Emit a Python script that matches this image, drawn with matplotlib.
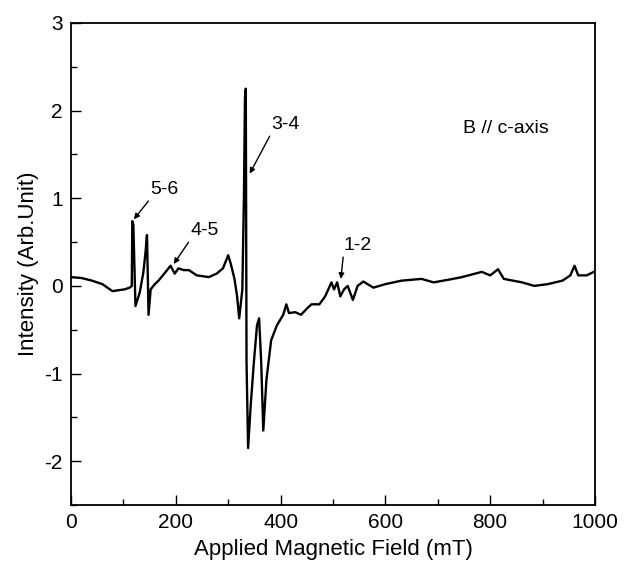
import matplotlib
matplotlib.use("Agg")
import matplotlib.pyplot as plt
from matplotlib.ticker import MultipleLocator

plt.rcParams['font.family'] = ['Liberation Sans', 'DejaVu Sans']
plt.rcParams['axes.unicode_minus'] = False

# ESR trace (field in mT, intensity in arb. units)
field = [0, 20, 40, 60, 79, 90, 102, 112, 116, 117, 119, 123, 131, 138, 142, 145,
         148, 152, 160, 167, 178, 190, 198, 205, 215, 225, 240, 252, 263, 278, 290,
         300, 305, 312, 317, 321, 327, 330, 332, 333.6, 335, 338, 343, 349, 355, 359,
         363, 367, 373, 382, 393, 405, 411, 416, 428, 439, 450, 459, 474, 485, 497,
         502, 508, 514, 521, 528, 538, 547, 558, 577, 600, 631, 669, 692, 720, 746,
         784, 800, 815, 826, 861, 884, 910, 938, 953, 961, 968, 984, 998]
intensity = [0.10, 0.09, 0.06, 0.02, -0.06, -0.05, -0.04, -0.02, 0.00, 0.74, 0.70, -0.23,
             -0.08, 0.15, 0.37, 0.58, -0.33, -0.04, 0.02, 0.06, 0.14, 0.23, 0.14, 0.20,
             0.18, 0.18, 0.12, 0.11, 0.10, 0.14, 0.20, 0.35, 0.25, 0.08, -0.12, -0.37,
             -0.04, 1.0, 2.14, 2.25, -0.87, -1.85, -1.36, -0.87, -0.45, -0.37, -0.87,
             -1.65, -1.07, -0.62, -0.45, -0.33, -0.21, -0.31, -0.30, -0.33, -0.26, -0.21,
             -0.21, -0.12, 0.04, -0.04, 0.04, -0.12, -0.04, 0.00, -0.16, 0.00, 0.05,
             -0.02, 0.02, 0.06, 0.08, 0.04, 0.07, 0.10, 0.16, 0.12, 0.19, 0.08, 0.04,
             0.00, 0.02, 0.06, 0.12, 0.23, 0.12, 0.12, 0.16]

# transition labels: text, text position, arrow tip
labels = ["5-6", "4-5", "3-4", "1-2"]
label_xy = [(152, 1.00), (228, 0.53), (382, 1.74), (520, 0.36)]
tip_xy = [(120, 0.76), (196, 0.25), (341, 1.28), (515, 0.08)]

fig = plt.figure(figsize=(6.3, 5.66), dpi=100)
ax = fig.add_axes([0.1127, 0.1078, 0.8317, 0.8516])

ax.plot(field, intensity, color='black', lw=1.7)

for txt, xy, tip in zip(labels, label_xy, tip_xy):
    ax.annotate(txt, xy=tip, xytext=xy, fontsize=14, ha='left', va='bottom',
                arrowprops=dict(arrowstyle='-|>', color='black', lw=1,
                                mutation_scale=8, shrinkA=0, shrinkB=0,
                                relpos=(0, 0)))

ax.text(748, 1.80, "B // c-axis", fontsize=14, va='center')

ax.set_xlim(0, 1000)
ax.set_ylim(-2.5, 3)
ax.xaxis.set_major_locator(MultipleLocator(200))
ax.xaxis.set_minor_locator(MultipleLocator(100))
ax.set_yticks([-2, -1, 0, 1, 2, 3])
ax.yaxis.set_minor_locator(MultipleLocator(0.5))
ax.tick_params(which='both', direction='in', top=False, right=False,
               labelsize=15, width=1)
ax.tick_params(which='major', length=7, pad=6)
ax.tick_params(which='minor', length=4)
for s in ax.spines.values():
    s.set_linewidth(1.3)

ax.set_xlabel("Applied Magnetic Field (mT)", fontsize=16, labelpad=5)
ax.set_ylabel("Intensity (Arb.Unit)", fontsize=16, labelpad=4)

fig.savefig("out.png", dpi=100)
